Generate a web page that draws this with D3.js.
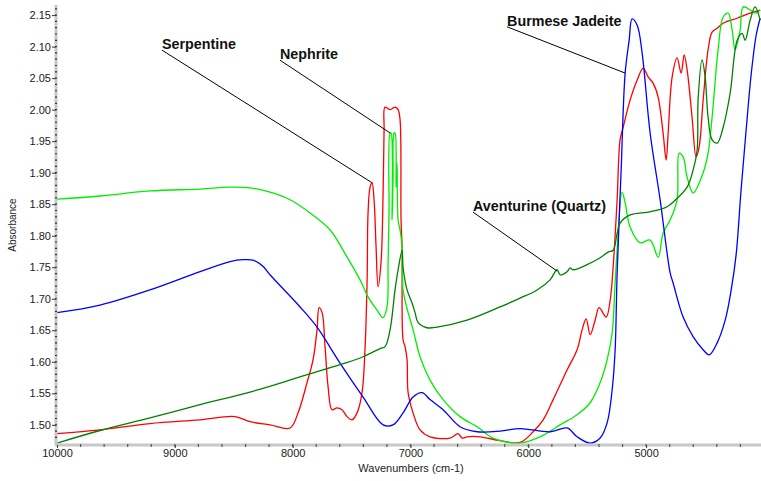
<!DOCTYPE html>
<html>
<head>
<meta charset="utf-8">
<script src="https://cdn.jsdelivr.net/npm/d3@7"></script>
<style>
  body { margin: 0; background: #fff; }
  svg { display: block; font-family: "Liberation Sans", Arial, sans-serif; }
</style>
</head>
<body>
<svg class="nir-chart" width="761" height="481"></svg>
<script>
// spectra: [wavenumber (cm-1), absorbance]
const serpentine = [
  [10000,1.486],[9635,1.492],[9211,1.502],[8786,1.508],[8489,1.513],[8362,1.505],[8192,1.500],
  [8022,1.495],[7954,1.519],[7878,1.567],[7827,1.603],[7793,1.651],[7776,1.686],[7750,1.678],
  [7725,1.624],[7699,1.560],[7666,1.524],[7623,1.527],[7581,1.524],[7538,1.513],[7496,1.508],
  [7453,1.519],[7411,1.551],[7385,1.624],[7368,1.730],[7360,1.836],[7343,1.877],[7326,1.884],
  [7309,1.857],[7292,1.782],[7275,1.719],[7250,1.757],[7233,1.861],[7224,1.968],[7216,2.004],
  [7173,2.000],[7131,2.004],[7105,2.000],[7088,1.983],[7080,1.825],[7071,1.782],[7063,1.635],
  [7046,1.624],[7029,1.603],[7020,1.551],[6978,1.519],[6919,1.492],[6834,1.481],[6664,1.479],
  [6596,1.486],[6562,1.479],[6520,1.481],[6409,1.481],[6239,1.475],[6070,1.472],[5959,1.489],
  [5874,1.508],[5789,1.540],[5671,1.587],[5586,1.619],[5543,1.651],[5509,1.668],[5475,1.643],
  [5433,1.666],[5399,1.686],[5339,1.671],[5305,1.698],[5280,1.750],[5246,1.857],[5221,1.952],
  [5195,1.972],[5136,2.015],[5076,2.047],[5025,2.066],[4983,2.052],[4941,2.042],[4898,2.020],
  [4856,1.963],[4830,1.920],[4813,1.963],[4779,2.052],[4737,2.082],[4703,2.058],[4677,2.087],
  [4652,2.063],[4610,1.988],[4576,1.925],[4550,1.941],[4516,2.015],[4474,2.095],[4440,2.123],
  [4397,2.129],[4346,2.137],[4227,2.145],[4117,2.153],[4032,2.158]
];

const nephrite = [
  [10000,1.858],[9635,1.863],[9211,1.871],[8786,1.874],[8531,1.877],[8362,1.876],[8192,1.869],
  [8022,1.857],[7852,1.836],[7682,1.809],[7538,1.766],[7428,1.730],[7360,1.703],[7284,1.682],
  [7233,1.670],[7199,1.687],[7190,1.757],[7182,1.836],[7173,1.963],[7165,1.963],[7156,1.825],
  [7148,1.888],[7139,1.963],[7131,1.963],[7122,1.877],[7114,1.915],[7105,1.825],[7088,1.809],
  [7071,1.782],[7063,1.714],[7020,1.678],[6978,1.651],[6919,1.608],[6834,1.571],[6723,1.540],
  [6579,1.513],[6435,1.497],[6299,1.479],[6070,1.471],[5900,1.481],[5730,1.500],[5586,1.516],
  [5475,1.535],[5390,1.567],[5331,1.603],[5288,1.646],[5263,1.725],[5246,1.777],[5204,1.869],
  [5178,1.852],[5136,1.814],[5051,1.789],[4966,1.793],[4898,1.766],[4856,1.804],[4796,1.825],
  [4737,1.857],[4720,1.931],[4686,1.925],[4652,1.893],[4601,1.868],[4516,1.900],[4474,1.931],
  [4440,1.988],[4389,2.095],[4346,2.147],[4304,2.153],[4270,2.126],[4245,2.095],[4202,2.126],
  [4176,2.163],[4117,2.158],[4075,2.153],[4032,2.158]
];

const jadeite = [
  [10000,1.678],[9635,1.690],[9211,1.714],[8786,1.743],[8531,1.759],[8420,1.762],[8330,1.761],
  [8250,1.751],[8192,1.738],[7937,1.687],[7793,1.655],[7598,1.598],[7402,1.544],[7233,1.500],[7148,1.500],
  [7063,1.519],[6978,1.544],[6902,1.551],[6834,1.540],[6723,1.524],[6579,1.497],[6435,1.489],
  [6239,1.490],[6070,1.494],[5815,1.489],[5671,1.495],[5586,1.481],[5475,1.471],[5390,1.479],
  [5331,1.503],[5288,1.556],[5263,1.619],[5246,1.741],[5212,1.904],[5178,2.058],[5144,2.110],
  [5119,2.144],[5076,2.134],[5034,2.090],[4966,1.963],[4881,1.857],[4796,1.741],[4771,1.725],
  [4686,1.671],[4601,1.640],[4516,1.619],[4465,1.611],[4397,1.630],[4329,1.666],[4278,1.714],
  [4236,1.770],[4194,1.873],[4151,1.968],[4109,2.055],[4066,2.118],[4032,2.145]
];

const aventurine = [
  [10000,1.471],[9635,1.491],[9211,1.511],[8786,1.532],[8362,1.552],[7937,1.576],[7572,1.597],
  [7402,1.608],[7258,1.621],[7216,1.624],[7173,1.651],[7131,1.714],[7105,1.746],
  [7071,1.777],[7063,1.750],[7029,1.714],[6986,1.693],[6961,1.678],[6935,1.662],[6859,1.654],
  [6774,1.655],[6520,1.666],[6239,1.687],[6070,1.701],[5925,1.714],[5815,1.730],[5756,1.746],
  [5730,1.738],[5671,1.743],[5645,1.749],[5620,1.746],[5501,1.754],[5390,1.765],[5322,1.774],
  [5280,1.777],[5246,1.804],[5221,1.820],[5136,1.833],[4966,1.838],[4822,1.846],[4728,1.861],
  [4652,1.877],[4601,1.904],[4567,1.936],[4559,2.015],[4525,2.079],[4499,2.052],[4474,1.988],
  [4440,1.952],[4397,1.947],[4346,1.972],[4287,2.026],[4227,2.110],[4185,2.121],[4160,2.110],
  [4117,2.142],[4075,2.163],[4032,2.142]
];

const seriesNames = ["Serpentine", "Nephrite", "Burmese Jadeite", "Aventurine (Quartz)"];
const seriesColors = ["#ff0000", "#00ee00", "#0000ff", "#008000"];

// label text anchor and leader target, in data units
const labelAt = [[9109, 2.096], [8107, 2.080], [6180, 2.133], [6469, 1.839]];
const pointAt = [[7326, 1.884], [7173, 1.963], [5178, 2.058], [5756, 1.744]];

const xMajor = [10000, 9000, 8000, 7000, 6000, 5000];
const xMinor = d3.range(9800, 4100, -200);
const yMajor = [1.50, 1.55, 1.60, 1.65, 1.70, 1.75, 1.80, 1.85, 1.90, 1.95, 2.00, 2.05, 2.10, 2.15];
const yMinor = d3.range(147, 217).map(d => d / 100);

const plotLeft = 57, plotRight = 761, plotTop = 5, plotBottom = 445;

const svg = d3.select("svg.nir-chart");

const x = d3.scaleLinear().domain([10000, 4025]).range([plotLeft, plotRight]);
const y = d3.scaleLinear().domain([1.468, 2.166]).range([plotBottom, plotTop]);

svg.append("defs").append("clipPath")
   .attr("id", "clip")
   .append("rect")
   .attr("x", plotLeft)
   .attr("y", 0)
   .attr("width", plotRight - plotLeft)
   .attr("height", plotBottom - 1);

const line = d3.line()
   .curve(d3.curveCatmullRom.alpha(0.5))
   .x(d => x(d[0]))
   .y(d => y(d[1]));

const plot = svg.append("g").attr("clip-path", "url(#clip)");

[serpentine, nephrite, jadeite, aventurine].forEach((data, i) => {
   plot.append("path")
      .datum(data)
      .attr("d", line)
      .attr("fill", "none")
      .attr("stroke", seriesColors[i])
      .attr("stroke-width", 1.3)
      .attr("stroke-linejoin", "round");
});

// y axis: grey band, small marks, labelled ticks
const yAxis = svg.append("g").attr("transform", `translate(${plotLeft - 1},0)`)
   .call(d3.axisLeft(y).tickValues(yMajor).tickSize(4).tickFormat(d3.format(".2f")).tickSizeOuter(0));
yAxis.select(".domain").attr("stroke", "#c8c8c8").attr("stroke-width", 3)
   .attr("d", `M0,${plotTop}V${plotBottom}`);
yAxis.selectAll(".tick line").attr("stroke", "#333");
yAxis.selectAll(".tick text").attr("font-size", 11).attr("fill", "#222")
   .attr("font-family", "Liberation Sans, Arial, sans-serif").attr("x", -5);

svg.append("g").selectAll("line")
   .data(yMinor.filter(d => y(d) > plotTop && y(d) < plotBottom - 2))
   .join("line")
   .attr("x1", plotLeft - 2).attr("x2", plotLeft)
   .attr("y1", d => y(d)).attr("y2", d => y(d))
   .attr("stroke", "#333").attr("stroke-width", 1.2);

// x axis
const xAxis = svg.append("g").attr("transform", `translate(0,${plotBottom})`)
   .call(d3.axisBottom(x).tickValues(xMajor).tickSize(3).tickFormat(d3.format("d")).tickSizeOuter(0));
xAxis.select(".domain").attr("stroke", "#c8c8c8").attr("stroke-width", 3)
   .attr("d", `M${plotLeft - 2},0H${plotRight}`);
xAxis.selectAll(".tick line").attr("stroke", "#333");
xAxis.selectAll(".tick text").attr("font-size", 11).attr("fill", "#222")
   .attr("font-family", "Liberation Sans, Arial, sans-serif").attr("y", 4);

svg.append("g").selectAll("line")
   .data(xMinor)
   .join("line")
   .attr("x1", d => x(d)).attr("x2", d => x(d))
   .attr("y1", plotBottom - 1).attr("y2", plotBottom + 2)
   .attr("stroke", "#555").attr("stroke-width", 1.2);

// axis titles
svg.append("text")
   .attr("transform", `translate(16,${(plotTop + plotBottom) / 2}) rotate(-90)`)
   .attr("text-anchor", "middle")
   .attr("font-size", 10)
   .attr("fill", "#222")
   .text("Absorbance");

svg.append("text")
   .attr("x", 411).attr("y", 472)
   .attr("text-anchor", "middle")
   .attr("font-size", 11)
   .attr("fill", "#222")
   .text("Wavenumbers (cm-1)");

// labels with leader lines
const notes = svg.append("g");
seriesNames.forEach((name, i) => {
   const [tx, ty] = [x(labelAt[i][0]), y(labelAt[i][1])];
   notes.append("line")
      .attr("x1", tx).attr("y1", ty + 1)
      .attr("x2", x(pointAt[i][0])).attr("y2", y(pointAt[i][1]))
      .attr("stroke", "#000").attr("stroke-width", 1);
   notes.append("text")
      .attr("x", tx).attr("y", ty)
      .attr("font-size", 14.3)
      .attr("font-weight", "bold")
      .attr("fill", "#111")
      .text(name);
});
</script>
</body>
</html>
